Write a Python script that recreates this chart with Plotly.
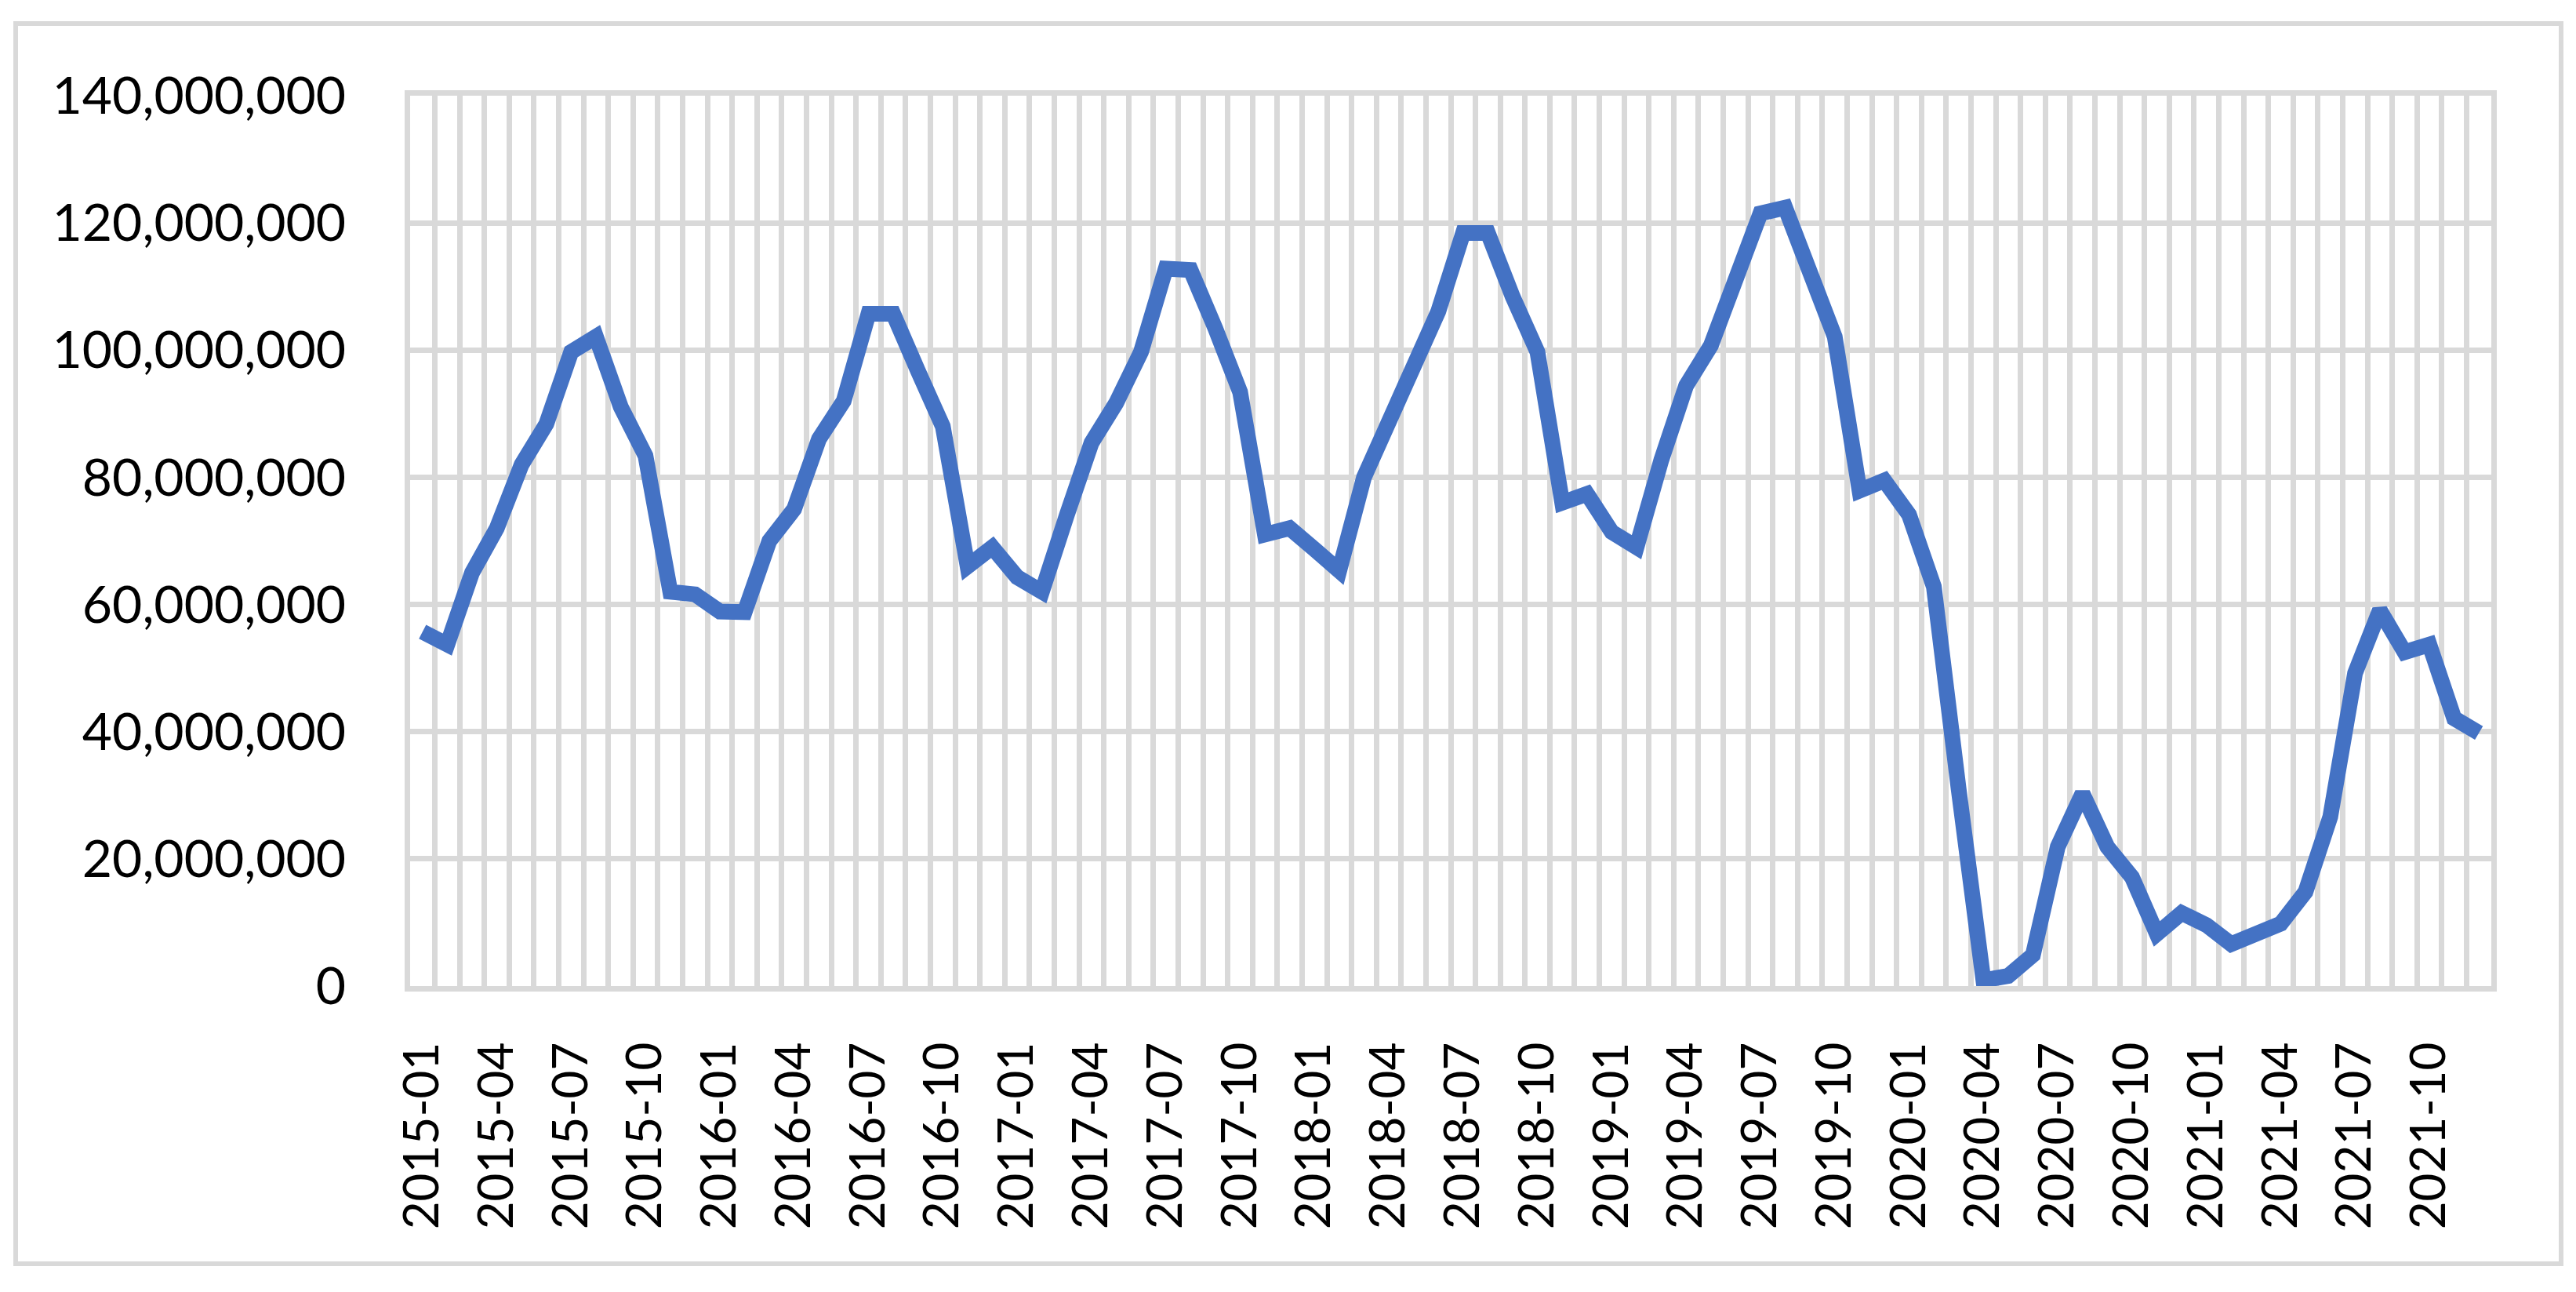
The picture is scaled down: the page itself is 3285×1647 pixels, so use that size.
import plotly.graph_objects as go

# monthly categories 2015-01 .. 2021-12
months = [f"{y}-{m:02d}" for y in range(2015, 2022) for m in range(1, 13)]

# values, in millions
values_m = [
    55.7, 53.7, 65.0, 72.0, 82.0, 88.4, 99.7, 102.1, 91.1, 83.4, 62.0, 61.6,
    58.9, 58.8, 70.0, 75.0, 86.0, 92.0, 105.7, 105.7, 96.7, 88.0, 66.0, 69.0,
    64.3, 62.0, 74.0, 85.4, 91.7, 99.7, 112.8, 112.6, 103.4, 93.4, 71.0, 72.0,
    68.7, 65.3, 80.0, 88.7, 97.5, 106.1, 118.4, 118.4, 108.4, 99.7, 76.0, 77.4,
    71.4, 69.0, 82.7, 94.4, 100.7, 111.8, 121.5, 122.4, 112.3, 102.1, 77.9, 79.5,
    74.1, 62.8, 31.0, 0.9, 1.6, 4.9, 21.9, 30.3, 21.9, 17.1, 8.2, 11.5,
    9.6, 6.6, 8.2, 9.8, 14.8, 26.6, 49.2, 59.1, 52.5, 53.7, 42.1, 39.8,
]
values = [v * 1_000_000 for v in values_m]

x_idx = list(range(len(months)))
tick_idx = x_idx[::3]
tick_text = months[::3]

GRID = "#D9D9D9"
FONT = dict(family="Lato, Carlito, Calibri, sans-serif", size=66, color="black")

fig = go.Figure()
fig.add_trace(go.Scatter(
    x=x_idx, y=values, mode="lines",
    line=dict(color="#4472C4", width=20),
    showlegend=False,
))

# page body has an 8px margin, so work in figure coords = page coords - 8
OFF = 8
W, H = 3285 - OFF, 1647 - OFF
L, R, T, B = 523 - OFF, 3177 - OFF, 122 - OFF, 1257 - OFF   # plot area
pw, ph = R - L, B - T

fig.update_layout(
    width=W, height=H,
    margin=dict(l=L, r=W - R, t=T, b=H - B),
    paper_bgcolor="white", plot_bgcolor="white",
    font=FONT,
    shapes=[dict(
        type="rect", xref="paper", yref="paper",
        x0=(20 - OFF - L) / pw, x1=(3266 - OFF - L) / pw,
        y0=(B - (1611 - OFF)) / ph, y1=(B - (30 - OFF)) / ph,
        line=dict(color=GRID, width=6),
    )],
)

fig.update_xaxes(
    range=[-0.5, len(months) - 0.5],
    tickmode="array", tickvals=tick_idx, ticktext=tick_text,
    tickangle=-90, showgrid=False, ticks="",
    tickfont=dict(size=62),
    ticklabelstandoff=40,
    minor=dict(tickmode="linear", tick0=-0.5, dtick=1,
               showgrid=True, gridcolor=GRID, gridwidth=6.5, ticks=""),
    showline=True, linecolor=GRID, linewidth=6.5, mirror=True,
    zeroline=False,
)
fig.update_yaxes(
    range=[0, 140_000_000], dtick=20_000_000, tickformat=",",
    showgrid=True, gridcolor=GRID, gridwidth=6.5,
    ticks="", ticklabelstandoff=62,
    showline=True, linecolor=GRID, linewidth=6.5, mirror=True,
    zeroline=False,
)

fig.write_html("out.html")
